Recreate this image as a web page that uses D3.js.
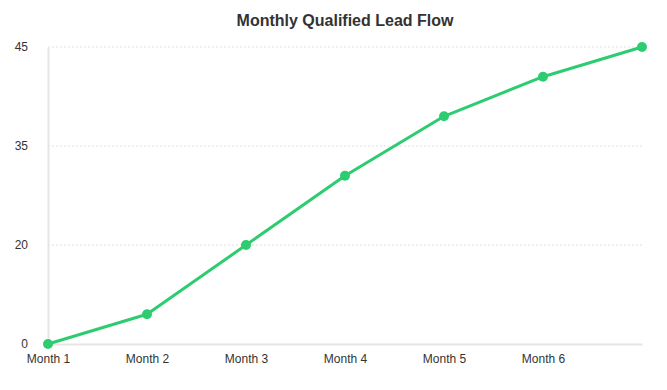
<!DOCTYPE html>
<html>
<head>
<meta charset="utf-8">
<script src="https://cdn.jsdelivr.net/npm/d3@7"></script>
<style>
  body { margin: 0; background: #fff; }
  svg { display: block; font-family: "Liberation Sans", Arial, sans-serif; }
</style>
</head>
<body>
<div id="chart"></div>
<script>
const months = ["Month 1", "Month 2", "Month 3", "Month 4", "Month 5", "Month 6", "Month 7"];
const leads = [0, 6, 20, 30.5, 38, 42, 45];
const yTicks = [0, 20, 35, 45];
const xLabels = ["Month 1", "Month 2", "Month 3", "Month 4", "Month 5", "Month 6"];

const green = "#2ecc71";

var margin = { top: 47, right: 25, bottom: 46, left: 48 },
    width = 667 - margin.left - margin.right,
    height = 390 - margin.top - margin.bottom;

const svg = d3.select("#chart")
    .append("svg")
    .attr("width", 667)
    .attr("height", 390);

svg.append("text")
    .attr("x", margin.left + width / 2)
    .attr("y", 26)
    .attr("text-anchor", "middle")
    .style("font-size", "16px")
    .style("font-weight", "bold")
    .style("fill", "#333")
    .text("Monthly Qualified Lead Flow");

const g = svg.append("g")
    .attr("transform", `translate(${margin.left}, ${margin.top})`);

const x = d3.scalePoint()
    .domain(months)
    .range([0, width]);

// ticks are evenly spaced, so the scale is piecewise between them
const y = d3.scaleLinear()
    .domain(yTicks)
    .range(yTicks.map((t, i) => height - i * height / (yTicks.length - 1)));

// gridlines
g.selectAll("line.grid")
    .data(yTicks.filter(t => t > 0))
    .enter()
    .append("line")
    .attr("class", "grid")
    .attr("x1", 0)
    .attr("x2", width)
    .attr("y1", d => y(d))
    .attr("y2", d => y(d))
    .attr("stroke", "#e0e0e0")
    .attr("stroke-dasharray", "2,2");

// y axis
const yAxis = g.append("g")
    .call(d3.axisLeft(y).tickValues(yTicks).tickSize(0).tickPadding(20));
yAxis.select(".domain").attr("stroke", "#e6e6e6").attr("stroke-width", 2);
yAxis.selectAll("text").style("font-size", "12px").style("fill", "#333")
    .style("font-family", "'Liberation Sans', Arial, sans-serif");

// x axis
const xAxis = g.append("g")
    .attr("transform", `translate(0, ${height})`)
    .call(d3.axisBottom(x).tickValues(xLabels).tickSize(0).tickPadding(10));
xAxis.select(".domain").attr("stroke", "#e6e6e6").attr("stroke-width", 2);
xAxis.selectAll("text").style("font-size", "12px").style("fill", "#333")
    .style("font-family", "'Liberation Sans', Arial, sans-serif");

// line
const line = d3.line()
    .x((d, i) => x(months[i]))
    .y(d => y(d));

g.append("path")
    .datum(leads)
    .attr("fill", "none")
    .attr("stroke", green)
    .attr("stroke-width", 3)
    .attr("stroke-linejoin", "round")
    .attr("d", line);

g.selectAll("circle.dot")
    .data(leads)
    .enter()
    .append("circle")
    .attr("class", "dot")
    .attr("cx", (d, i) => x(months[i]))
    .attr("cy", d => y(d))
    .attr("r", 5)
    .attr("fill", green);
</script>
</body>
</html>
